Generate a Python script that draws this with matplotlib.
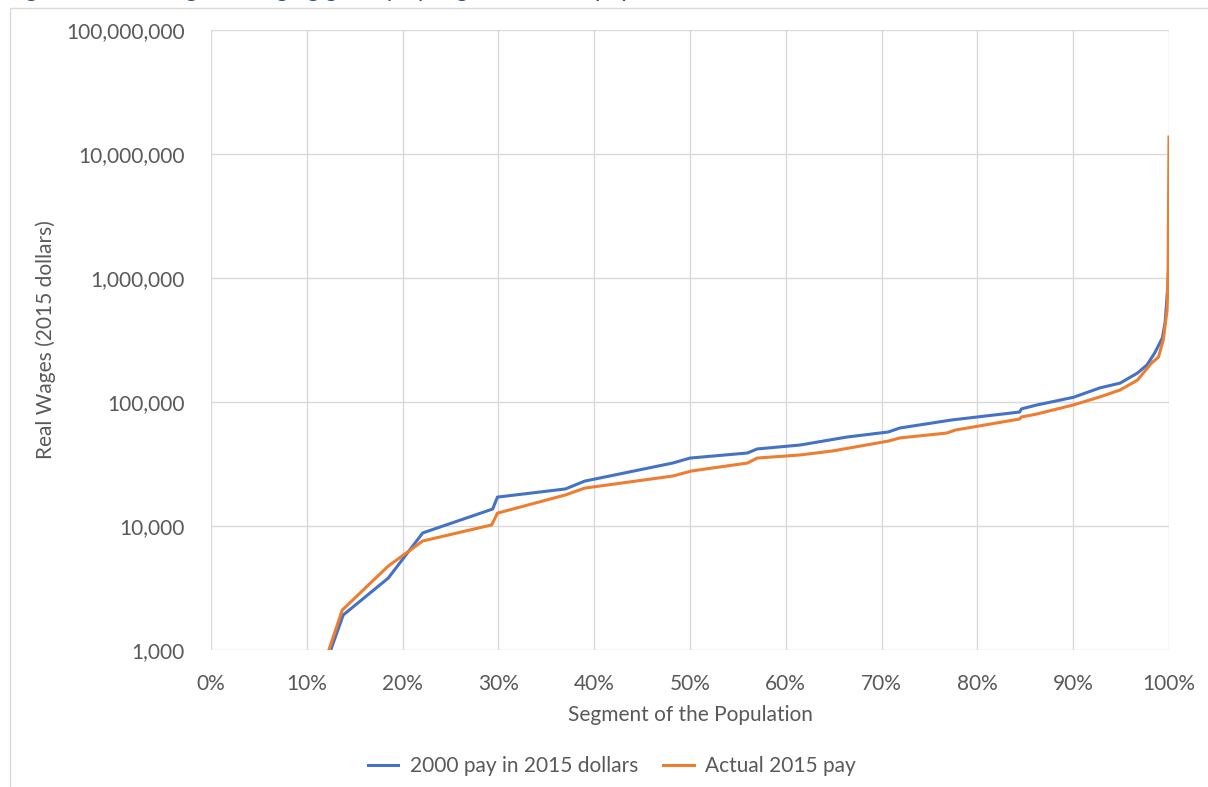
import matplotlib
matplotlib.use("Agg")
import matplotlib.pyplot as plt
import matplotlib.patches as mpatches
import matplotlib.ticker as mticker

plt.rcParams["font.family"] = ["Lato", "DejaVu Sans"]

# ---------------------------------------------------------------------------
# Data: segment of population (%) vs real wages (2015 dollars)
# ---------------------------------------------------------------------------
SEG_2000 = [12.0, 13.8, 18.5, 22.1, 29.4, 29.9, 37.0, 39.0, 48.2, 50.0, 56.0,
            57.0, 61.5, 66.4, 70.7, 71.9, 77.3, 84.4, 84.6, 86.2, 90.0, 92.8,
            94.9, 96.7, 97.7, 98.5, 99.3, 99.6, 99.9, 100.0]
PAY_2000 = [780, 1915, 3800, 8790, 13700, 17100, 19900, 23000, 32200, 35300,
            38800, 41800, 45000, 52200, 57300, 61700, 71600, 83000, 88000,
            94600, 109000, 130000, 142000, 171000, 199000, 248000, 328000,
            442000, 912000, 1480000]

SEG_2015 = [12.0, 13.7, 18.5, 22.1, 29.3, 29.9, 37.0, 39.0, 48.2, 50.2, 56.0,
            57.0, 61.5, 64.9, 70.7, 71.9, 76.8, 77.7, 84.4, 84.6, 86.2, 90.0,
            92.8, 94.9, 96.7, 98.2, 98.9, 99.4, 99.8, 99.9, 100.0]
PAY_2015 = [850, 2100, 4750, 7570, 10200, 12700, 17800, 20200, 25300, 27800,
            32200, 35300, 37400, 40300, 48400, 51300, 56200, 59400, 72900,
            75700, 80000, 94600, 110000, 125000, 150000, 207000, 230000,
            316000, 550000, 1150000, 13700000]

LABEL_2000 = "2000 pay in 2015 dollars"
LABEL_2015 = "Actual 2015 pay"
BLUE = "#4472C4"
ORANGE = "#ED7D31"
TEXT = "#595959"
FS = 15

# ---------------------------------------------------------------------------
# Figure
# ---------------------------------------------------------------------------
fig = plt.figure(figsize=(12.08, 7.87), dpi=100)
ax = fig.add_axes([211 / 1208, 1 - 650 / 787, 958 / 1208, 620 / 787])

# chart area border (runs off the right/bottom of the crop)
fig.patches.append(mpatches.Rectangle((10 / 1208, -0.2), 1.2, 1 - 8 / 787 + 0.2,
                                      transform=fig.transFigure, fill=False,
                                      edgecolor="#D9D9D9", linewidth=1.0))

# title, mostly cropped off at the very top (only descenders show)
fig.text(8 / 1208, 1 + 3.0 / 787,
         "Figure 3: Real wages changing greatly by segment of the population",
         ha="left", va="baseline", fontsize=18, style="italic", color="#1F4E79")

ax.plot(SEG_2000, PAY_2000, color=BLUE, linewidth=2.2, label=LABEL_2000,
        solid_joinstyle="round", zorder=3)
ax.plot(SEG_2015, PAY_2015, color=ORANGE, linewidth=2.2, label=LABEL_2015,
        solid_joinstyle="round", zorder=4)

ax.set_yscale("log")
ax.set_ylim(1000, 1e8)
ax.set_xlim(0, 100)
ax.set_xticks(range(0, 101, 10))
ax.xaxis.set_major_formatter(mticker.FuncFormatter(lambda v, p: f"{v:.0f}%"))
ax.yaxis.set_major_locator(mticker.LogLocator(base=10, numticks=10))
ax.yaxis.set_minor_locator(mticker.NullLocator())
ax.yaxis.set_major_formatter(mticker.FuncFormatter(lambda v, p: f"{v:,.0f}"))

for s in ax.spines.values():
    s.set_visible(False)
ax.grid(True, color="#D9D9D9", linewidth=1.0, zorder=0)
ax.set_axisbelow(True)
ax.tick_params(length=0, labelsize=FS, labelcolor=TEXT)
ax.tick_params(axis="y", pad=19)
ax.tick_params(axis="x", pad=17)

ax.set_xlabel("Segment of the Population", fontsize=FS, color=TEXT, labelpad=8)
ax.set_ylabel("Real Wages (2015 dollars)", fontsize=FS, color=TEXT, labelpad=7)

fig.legend(loc="center", bbox_to_anchor=(612 / 1208, 1 - 766 / 787), ncol=2,
           frameon=False, fontsize=FS, labelcolor=TEXT, handlelength=1.45,
           handletextpad=0.55, columnspacing=1.2)

fig.savefig("out.png", dpi=100)
